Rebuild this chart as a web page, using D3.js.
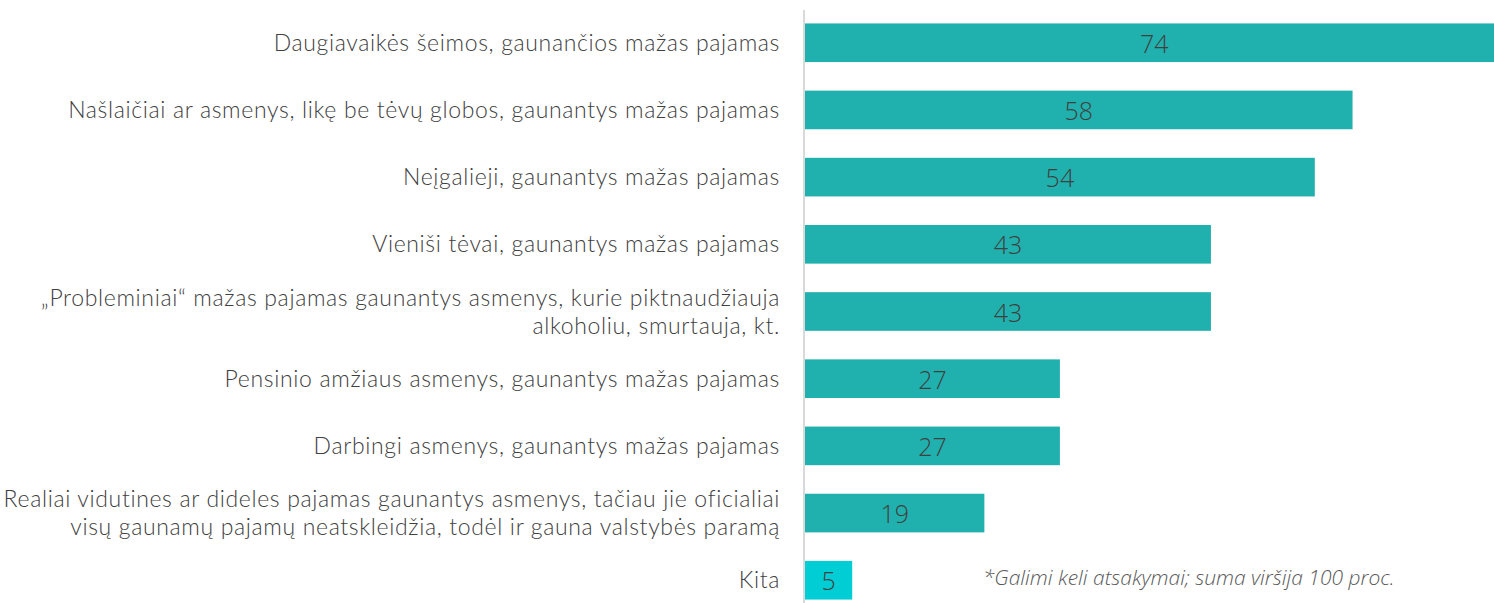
<!DOCTYPE html>
<html>
<head>
<meta charset="utf-8">
<script src="https://cdn.jsdelivr.net/npm/d3@7"></script>
<style>
  body { margin: 0; background: #fff; }
  svg { display: block; }
  text { font-family: "Open Sans", "Segoe UI", sans-serif; font-weight: 300; fill: #404040; }
  text.lbl { font-family: Lato, "Open Sans", sans-serif; }
</style>
</head>
<body>
<div id="chart"></div>
<script>
// survey answers (percent)
var categories = [
  ["Daugiavaikės šeimos, gaunančios mažas pajamas"],
  ["Našlaičiai ar asmenys, likę be tėvų globos, gaunantys mažas pajamas"],
  ["Neįgalieji, gaunantys mažas pajamas"],
  ["Vieniši tėvai, gaunantys mažas pajamas"],
  ["„Probleminiai“ mažas pajamas gaunantys asmenys, kurie piktnaudžiauja", "alkoholiu, smurtauja, kt."],
  ["Pensinio amžiaus asmenys, gaunantys mažas pajamas"],
  ["Darbingi asmenys, gaunantys mažas pajamas"],
  ["Realiai vidutines ar dideles pajamas gaunantys asmenys, tačiau jie oficialiai", "visų gaunamų pajamų neatskleidžia, todėl ir gauna valstybės paramą"],
  ["Kita"]
];
var values = [74, 58, 54, 43, 43, 27, 27, 19, 5];
var footnote = "*Galimi keli atsakymai; suma viršija 100 proc.";

var width = 1494, height = 603;
var x0 = 805;

var svg = d3.select("#chart").append("svg")
    .attr("width", width)
    .attr("height", height);

var x = d3.scaleLinear()
    .domain([0, 74])
    .range([x0, x0 + 698.6]);

var y = d3.scaleBand()
    .domain(d3.range(values.length))
    .range([10, 613])
    .paddingInner(0.425)
    .paddingOuter(0.2);

// bars
svg.selectAll("rect.bar")
    .data(values)
    .enter().append("rect")
    .attr("class", "bar")
    .attr("x", x(0))
    .attr("y", function(d, i) { return y(i); })
    .attr("width", function(d) { return x(d) - x(0); })
    .attr("height", y.bandwidth())
    .style("fill", function(d, i) { return i == values.length - 1 ? "#00CED4" : "#20B1AE"; });

// values inside bars
svg.selectAll("text.val")
    .data(values)
    .enter().append("text")
    .attr("class", "val")
    .attr("x", function(d) { return (x(0) + x(d)) / 2; })
    .attr("y", function(d, i) { return y(i) + y.bandwidth() / 2 + 10; })
    .attr("text-anchor", "middle")
    .style("font-size", "25px")
    .text(function(d) { return d; });

// axis line
svg.append("line")
    .attr("x1", 804).attr("x2", 804)
    .attr("y1", 10).attr("y2", 603)
    .style("stroke", "#d9d9d9")
    .style("stroke-width", 2);

// category labels, one text per line
categories.forEach(function(lines, i) {
  var cy = y(i) + y.bandwidth() / 2;
  var top = lines.length > 1 ? cy - 6 : cy + 8;
  svg.selectAll("text.lbl" + i)
      .data(lines)
      .enter().append("text")
      .attr("class", "lbl")
      .attr("x", 780)
      .attr("y", function(d, j) { return top + j * 28; })
      .attr("text-anchor", "end")
      .style("font-size", "23px")
      .style("letter-spacing", "0.65px")
      .text(function(d) { return d; });
});

svg.append("text")
    .attr("x", 983)
    .attr("y", 585)
    .style("font-size", "21px")
    .style("font-style", "italic")
    .style("fill", "#595959")
    .text(footnote);
</script>
</body>
</html>
